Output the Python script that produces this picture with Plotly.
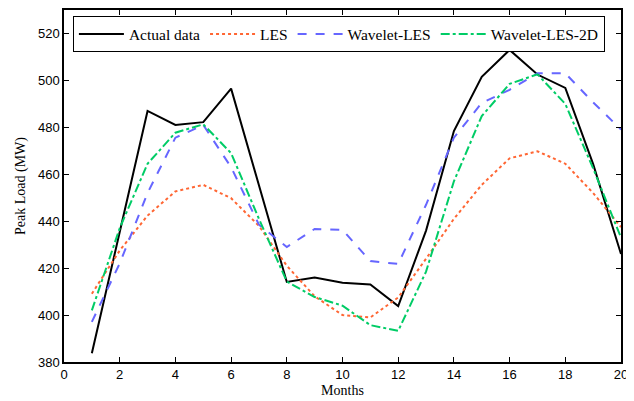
import plotly.graph_objects as go

months = list(range(1, 21))
actual = [383.7, 435.6, 487.0, 481.0, 482.2, 496.5, 455.0, 414.1, 416.0, 413.8,
          413.0, 403.8, 436.0, 478.4, 501.5, 513.0, 502.5, 496.8, 464.3, 426.0]
les = [409.1, 427.5, 442.4, 452.7, 455.5, 449.8, 438.0, 421.0, 408.0, 400.0,
       399.0, 407.5, 424.0, 441.0, 455.5, 466.8, 469.8, 464.5, 452.0, 437.5]
wavelet_les = [397.1, 422.0, 452.0, 475.6, 481.0, 463.0, 438.5, 429.0, 436.7, 436.3,
               423.0, 421.8, 447.0, 475.6, 490.4, 496.0, 503.0, 503.0, 490.6, 479.1]
wavelet_les_2d = [402.0, 437.0, 464.5, 477.7, 481.3, 469.0, 441.0, 414.3, 407.7, 404.0,
                  395.7, 393.3, 418.5, 457.0, 484.8, 498.5, 502.6, 490.0, 462.5, 433.0]

series = [
    ("Actual data", actual, "black", "solid"),
    ("LES", les, "#FF6633", "dot"),
    ("Wavelet-LES", wavelet_les, "#6666FF", "dash"),
    ("Wavelet-LES-2D", wavelet_les_2d, "#00CC66", "dashdot"),
]

fig = go.Figure()
for name, vals, color, dash in series:
    fig.add_trace(go.Scatter(x=months, y=vals, mode="lines", name=name,
                             line=dict(color=color, width=2, dash=dash)))

axis_common = dict(showline=True, linecolor="black", linewidth=1.5, mirror="ticks",
                   ticks="inside", ticklen=5, tickcolor="black", tickwidth=1,
                   showgrid=False, zeroline=False, automargin=False,
                   tickfont=dict(family="Liberation Sans, Arial", size=13, color="black"))

fig.update_xaxes(range=[0, 20], dtick=2, tick0=0,
                 title=dict(text="Months", font=dict(family="Liberation Serif, Times New Roman", size=14, color="black"), standoff=4),
                 **axis_common)
fig.update_yaxes(range=[380, 530], dtick=20, tick0=380,
                 title=dict(text="Peak Load (MW)", font=dict(family="Liberation Serif, Times New Roman", size=14, color="black"), standoff=9),
                 **axis_common)

# page body has an 8px default margin, so the figure is sized/offset to compensate
fig.update_layout(
    width=626, height=393,
    margin=dict(l=56, r=13, t=2, b=39),
    paper_bgcolor="white", plot_bgcolor="white",
    legend=dict(orientation="h", x=0.016, y=0.982, xanchor="left", yanchor="top",
                bordercolor="black", borderwidth=1, bgcolor="white",
                font=dict(family="Liberation Serif, Times New Roman", size=15.5, color="black"),
                itemwidth=45, tracegroupgap=0),
    showlegend=True,
)

fig.write_html("out.html")
